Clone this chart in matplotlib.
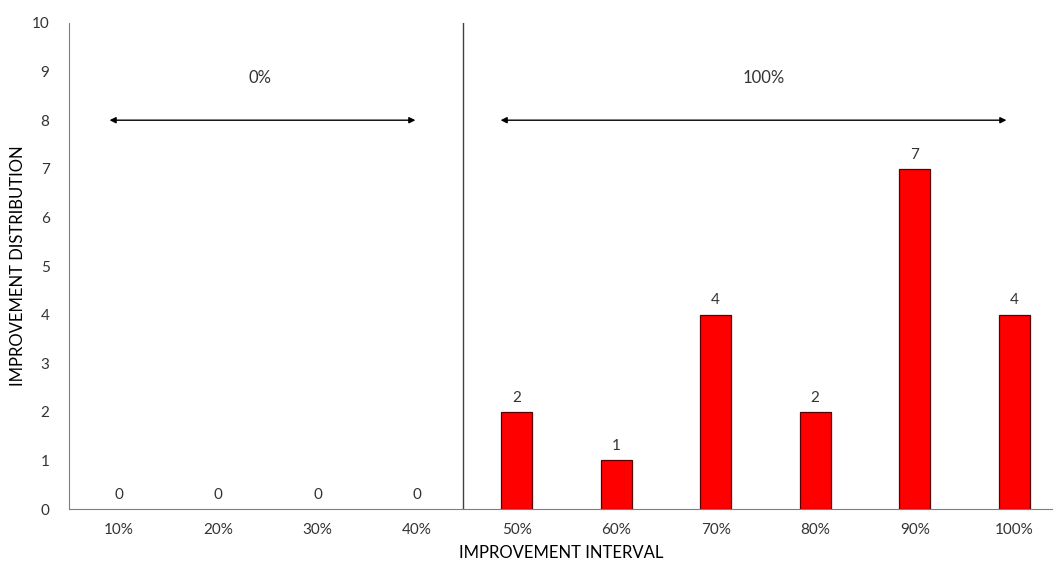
import matplotlib.pyplot as plt

# Verteilung der Verbesserungen je Intervall
intervalle = ['10%', '20%', '30%', '40%', '50%', '60%', '70%', '80%', '90%', '100%']
anzahl = [0, 0, 0, 0, 2, 1, 4, 2, 7, 4]

plt.rcParams['font.family'] = ['Lato', 'DejaVu Sans']

fig = plt.figure(figsize=(10.53, 5.69), dpi=100)
ax = fig.add_axes([0.0655, 0.1054, 0.9345, 0.8542])

x = list(range(len(intervalle)))
bars = ax.bar(x, anzahl, width=0.31, color='#ff0000', edgecolor='#5a0000', linewidth=0.9, zorder=2)
# Balken mit Höhe 0 ohne Rand
for b, v in zip(bars, anzahl):
    if v == 0:
        b.set_linewidth(0)

# Werte über den Balken
for xi, v in zip(x, anzahl):
    ax.text(xi, v + 0.15, str(v), ha='center', va='bottom', fontsize=11, color='#333333')

ax.set_xlim(-0.5, 9.39)
ax.set_ylim(0, 10)
ax.set_xticks(x)
ax.set_xticklabels(intervalle)
ax.set_yticks(range(0, 11))
ax.tick_params(length=0, labelsize=11, colors='#333333', pad=10)
ax.tick_params(axis='y', pad=14)

for s in ['top', 'right']:
    ax.spines[s].set_visible(False)
ax.spines['left'].set_color('#7f7f7f')
ax.spines['bottom'].set_color('#7f7f7f')

# Trennlinie zwischen den beiden Bereichen
ax.axvline(3.46, color='#404040', linewidth=1.0)

# Pfeile mit Beschriftung
ax.annotate('', xy=(-0.12, 8), xytext=(3.01, 8),
            arrowprops=dict(arrowstyle='<|-|>', color='black', lw=1.0, mutation_scale=9))
ax.annotate('', xy=(3.81, 8), xytext=(8.95, 8),
            arrowprops=dict(arrowstyle='<|-|>', color='black', lw=1.0, mutation_scale=9))
ax.text(1.42, 8.87, '0%', ha='center', va='center', fontsize=12, color='#333333')
ax.text(6.48, 8.87, '100%', ha='center', va='center', fontsize=12, color='#333333')

ax.set_xlabel('IMPROVEMENT INTERVAL', fontsize=12, color='black', labelpad=6)
ax.set_ylabel('IMPROVEMENT DISTRIBUTION', fontsize=12, color='black', labelpad=4)

fig.savefig('out.png', dpi=100)
